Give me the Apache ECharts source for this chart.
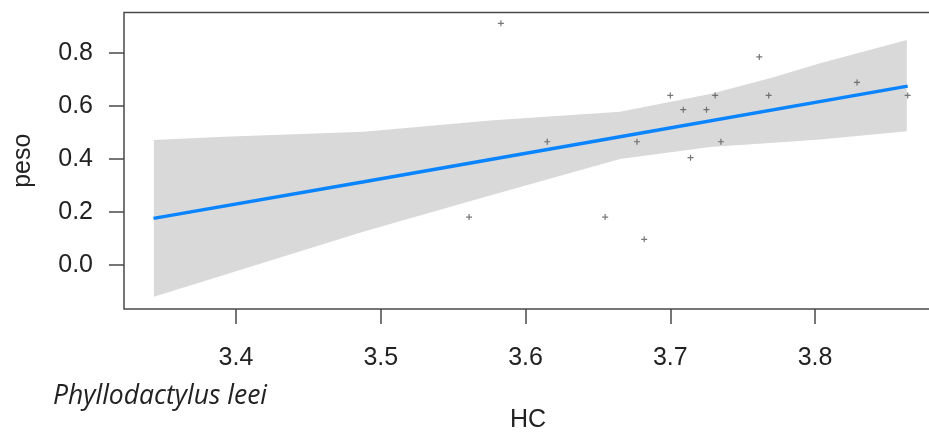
<!DOCTYPE html>
<html>
<head>
<meta charset="utf-8"/>
<title>peso ~ HC</title>
<script src="https://cdn.jsdelivr.net/npm/echarts@6/dist/echarts.min.js"></script>
<style>
    html, body { margin: 0; padding: 0; background: #fff; }
    #main { width: 929px; height: 434px; }
</style>
</head>
<body>
<div id="main"></div>
<script>
    // observed points (HC, peso)
    var hc = [3.583, 3.615, 3.561, 3.655, 3.682, 3.677, 3.700, 3.709, 3.725, 3.731, 3.735, 3.714, 3.7615, 3.768, 3.829, 3.864];
    var peso = [0.912, 0.465, 0.181, 0.181, 0.097, 0.465, 0.640, 0.586, 0.586, 0.640, 0.465, 0.405, 0.785, 0.640, 0.689, 0.640];

    // fitted line
    var fitX = [3.343, 3.4884, 3.6653, 3.864];
    var fitY = [0.176, 0.314, 0.484, 0.675];

    // confidence band
    var bandX = [3.3433, 3.3917, 3.4884, 3.5755, 3.6653, 3.7275, 3.7689, 3.8035, 3.8634];
    var bandUp = [0.472, 0.484, 0.503, 0.545, 0.578, 0.645, 0.705, 0.761, 0.849];
    var bandLo = [-0.120, -0.038, 0.126, 0.262, 0.400, 0.445, 0.460, 0.474, 0.505];

    var xTicks = [3.4, 3.5, 3.6, 3.7, 3.8];
    var yTicks = [0.0, 0.2, 0.4, 0.6, 0.8];

    var chart = echarts.init(document.getElementById('main'));

    var points = hc.map(function (v, i) { return [v, peso[i]]; });
    var fit = fitX.map(function (v, i) { return [v, fitY[i]]; });

    var txt = '#222';
    var axisCol = '#4a4a4a';

    var option = {
        animation: false,
        grid: {
            left: 124, top: 12.5, right: -3, bottom: 125,
            outerBoundsMode: 'none', containLabel: false,
            show: true, borderColor: axisCol, borderWidth: 1.5, backgroundColor: '#fff'
        },
        xAxis: {
            type: 'value',
            min: 3.32263, max: 3.8808,
            name: 'HC', nameLocation: 'middle', nameGap: 99,
            nameTextStyle: { fontFamily: 'Liberation Sans', fontSize: 25, color: txt },
            axisLine: { show: false, onZero: false },
            splitLine: { show: false },
            axisTick: { show: true, inside: false, length: 15, customValues: xTicks, lineStyle: { color: axisCol, width: 1.5 } },
            axisLabel: {
                customValues: xTicks, margin: 37, fontFamily: 'Liberation Sans', fontSize: 25, color: txt, lineHeight: 25,
                formatter: function (v) { return v.toFixed(1); }
            }
        },
        yAxis: {
            type: 'value',
            min: -0.166, max: 0.9528,
            name: 'peso', nameLocation: 'middle', nameGap: 88, nameRotate: 90,
            nameTextStyle: { fontFamily: 'Liberation Sans', fontSize: 25, color: txt },
            axisLine: { show: false, onZero: false },
            splitLine: { show: false },
            axisTick: { show: true, inside: false, length: 15, customValues: yTicks, lineStyle: { color: axisCol, width: 1.5 } },
            axisLabel: {
                customValues: yTicks, margin: 31, fontFamily: 'Liberation Sans', fontSize: 25, color: txt,
                formatter: function (v) { return v.toFixed(1); }
            }
        },
        graphic: [{
            type: 'text', left: 53, top: 383,
            style: { text: 'Phyllodactylus leei', fontFamily: 'Open Sans', fontStyle: 'italic', fontSize: 26.5, fill: txt }
        }],
        series: [
            {
                type: 'custom',
                silent: true,
                z: 1,
                data: [0],
                renderItem: function (params, api) {
                    var pts = [];
                    for (var i = 0; i < bandX.length; i++) pts.push(api.coord([bandX[i], bandUp[i]]));
                    for (var j = bandX.length - 1; j >= 0; j--) pts.push(api.coord([bandX[j], bandLo[j]]));
                    return { type: 'polygon', shape: { points: pts }, style: { fill: '#d9d9d9' } };
                }
            },
            {
                type: 'line',
                data: fit,
                z: 3,
                showSymbol: false,
                lineStyle: { color: '#0a84ff', width: 3.5 }
            },
            {
                type: 'scatter',
                data: points,
                z: 4,
                symbol: 'path://M2,0h1v2h2v1h-2v2h-1v-2h-2v-1h2z',
                symbolSize: 6,
                itemStyle: { color: '#555' }
            }
        ]
    };

    chart.setOption(option);
</script>
</body>
</html>
